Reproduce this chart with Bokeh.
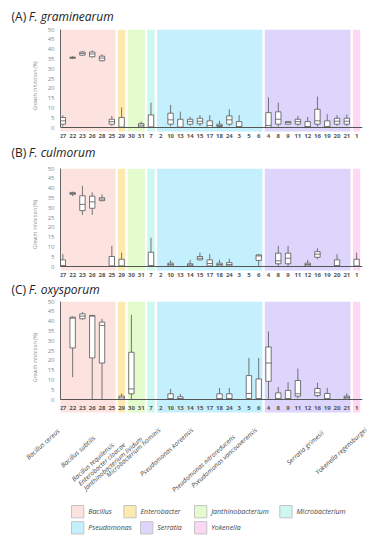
import numpy as np
from bokeh.plotting import figure
from bokeh.layouts import column
from bokeh.models import FixedTicker, Range1d, Span
from bokeh.core.properties import value
from bokeh.embed import file_html
from bokeh.resources import INLINE

# ---------------- data ----------------
strains = ["27", "22", "23", "26", "28", "25", "29", "30", "31", "7", "2", "10", "13", "14", "15",
           "17", "18", "24", "3", "5", "6", "4", "8", "9", "11", "12", "16", "19", "20", "21", "1"]
genus_of = (["Bacillus"] * 6 + ["Enterobacter"] + ["Janthinobacterium"] * 2 + ["Microbacterium"]
            + ["Pseudomonas"] * 11 + ["Serratia"] * 9 + ["Yokenella"])
genera = ["Bacillus", "Enterobacter", "Janthinobacterium", "Microbacterium",
          "Pseudomonas", "Serratia", "Yokenella"]
genus_colors = ["#fde3df", "#fdeab0", "#e4fbcd", "#cdf7ef", "#c4f0fd", "#ddd5fc", "#fcd8f4"]

# (A) F. graminearum
a_low = [0.5, 35.0, 36.4, 35.6, 33.6, 0.8, 0, 0, 0, 0, 0, 0.5, 0, 0.8, 0.8, 0, 0, 0.8, 0, 0, 0, 0, 0.5, 1.5, 0.8, 0, 0.5, 0, 0.8, 0.8, 0]
a_q1 = [1.7, 35.3, 36.9, 36.1, 34.1, 1.7, 0, 0, 0.3, 0, 0, 1.7, 0, 1.7, 1.9, 0, 0.5, 1.7, 0, 0, 0, 0, 1.7, 1.7, 1.7, 0, 1.7, 0, 1.7, 1.7, 0]
a_med = [3.4, 35.6, 37.8, 37.5, 35.4, 3.0, 0.2, 0, 1.2, 0.3, 0, 3.9, 0.2, 3.1, 3.2, 1.0, 1.0, 3.9, 0.5, 0, 0, 1.0, 4.2, 2.6, 3.0, 0.5, 3.4, 0.5, 3.2, 3.2, 0]
a_q3 = [5.1, 35.9, 38.5, 38.5, 36.4, 4.2, 5.1, 0, 2.0, 6.4, 0, 7.3, 4.2, 4.2, 4.7, 3.4, 1.7, 5.9, 3.0, 0, 0, 7.6, 8.0, 3.0, 4.2, 3.0, 9.3, 3.4, 4.7, 4.7, 0]
a_high = [6.3, 36.3, 39.0, 39.3, 37.3, 5.9, 10.2, 0, 3.1, 12.7, 0, 11.5, 8.1, 5.4, 6.3, 6.3, 3.4, 9.3, 6.3, 0, 0, 15.3, 12.7, 3.2, 5.9, 5.4, 15.8, 6.8, 6.3, 6.6, 0]

# (B) F. culmorum
b_low = [0, 35.9, 26.3, 26.3, 33.2, 0, 0, 0, 0, 0, 0, 0, 0, 0, 3.1, 0, 0, 0, 0, 0, 0, 0, 0.3, 0.3, 0, 0, 3.7, 0, 0, 0, 0]
b_q1 = [0, 36.8, 28.5, 29.7, 33.6, 0, 0, 0, 0, 0, 0, 0.3, 0, 0.3, 3.4, 0.3, 0.3, 0.3, 0, 0, 3.1, 0, 1.4, 1.4, 0, 0.3, 4.7, 0, 0, 0, 0]
b_med = [0.5, 37.2, 31.7, 33.0, 34.4, 0.3, 0.3, 0, 0, 0.5, 0, 1.0, 0, 0.8, 4.2, 1.5, 1.0, 1.0, 0, 0, 5.4, 0, 2.9, 4.2, 0, 1.0, 6.3, 0, 0.5, 0, 0.3]
b_q3 = [3.4, 37.8, 36.1, 35.9, 35.1, 5.1, 3.7, 0, 0, 7.3, 0, 1.7, 0, 1.4, 5.1, 3.4, 1.7, 2.0, 0, 0, 5.9, 0, 6.8, 6.8, 0, 1.7, 7.6, 0, 3.4, 0, 3.7]
b_high = [6.3, 38.1, 41.2, 37.8, 36.8, 10.5, 7.1, 0, 0, 14.7, 0, 3.1, 0, 3.4, 7.1, 6.3, 3.4, 3.9, 0, 0, 6.3, 0, 10.5, 10.5, 0, 3.4, 9.3, 0, 6.3, 0, 7.1]

# (C) F. oxysporum
c_low = [0, 11.4, 40.7, 0, 0, 0, 0, 0, 0, 0, 0, 0, 0, 0, 0, 0, 0, 0, 0, 0, 0, 0, 0, 0, 0.5, 0, 1.2, 0, 0, 0, 0]
c_q1 = [0, 26.3, 41.2, 21.2, 18.6, 0, 0, 2.9, 0, 0, 0, 0, 0, 0, 0, 0, 0, 0, 0, 0.5, 0, 9.3, 0, 0, 1.7, 0, 2.0, 0, 0, 0.3, 0]
c_med = [0, 41.5, 42.5, 42.5, 37.8, 0, 0.8, 5.4, 0, 0, 0, 0.5, 0.5, 0, 0, 0, 0.5, 0.5, 0, 3.1, 0.5, 18.6, 0.5, 0.5, 2.9, 0, 3.4, 0.5, 0, 1.0, 0]
c_q3 = [0, 42.0, 43.7, 42.9, 39.5, 0, 1.7, 24.1, 0, 0, 0, 2.9, 1.4, 0, 0, 0, 2.9, 2.9, 0, 12.2, 10.5, 26.8, 3.4, 4.6, 9.7, 0, 5.6, 3.1, 0, 1.7, 0]
c_high = [0, 42.4, 44.6, 43.0, 41.2, 0, 3.1, 43.2, 0, 0, 0, 5.4, 2.9, 0, 0, 0, 5.9, 5.9, 0, 21.2, 21.2, 34.7, 6.4, 8.8, 15.8, 0, 8.5, 5.9, 0, 3.1, 0]

y_ticks = [0, 5, 10, 15, 20, 25, 30, 35, 40, 45, 50]

species = ["Bacillus cereus", "Bacillus subtilis", "Bacillus tequilensis", "Enterobacter cloacae",
           "Janthinobacterium lividum", "Microbacterium hominis", "Pseudomonas koreensis",
           "Pseudomonas nitroreducens", "Pseudomonas vancouverensis", "Serratia grimesii",
           "Yokenella regensburgei"]
species_strain = ["27", "26", "25", "29", "31", "7", "14", "24", "5", "16", "1"]

# ---------------- layout / style ----------------
W = 379
FRAME_L, FRAME_R = 60, 17          # borders left / right of the plot frame
FRAME_W = W - FRAME_L - FRAME_R
X0, X1 = -0.24, 30.6
Y1 = 50
PXX = FRAME_W / (X1 - X0)
PXY = 98 / 50                      # px per % (0 -> 50 spans 98 px)
FONT = "Open Sans"
BOX_W = 0.55
BAND_GAP = 0.12
LINE_C = "#555555"
TXT_C = "#222222"

# species label end offsets (category units) and their depth below the strip figure top (px)
species_dx = [-0.75, -0.1, -0.2, -0.05, -0.3, 0.55, -0.1, 0.15, 0.4, 0.2, 0.6]
species_dy = [13, 20, 27, 27, 21, 12, 12, 19, 12, 15, 12]


def band_edges():
    lefts, rights = [], []
    for g in genera:
        members = [i for i, gg in enumerate(genus_of) if gg == g]
        lefts.append(min(members) - 0.5 + BAND_GAP)
        rights.append(max(members) + 0.5 - BAND_GAP)
    return lefts, rights


def blank_fig(h, xr, yr):
    f = figure(width=W, height=h, x_range=xr, y_range=yr, output_backend="svg",
               toolbar_location=None, min_border_left=0, min_border_right=0,
               min_border_top=0, min_border_bottom=0, frame_align=False)
    f.axis.visible = False
    f.xgrid.visible = False
    f.ygrid.visible = False
    f.outline_line_color = None
    f.background_fill_color = "white"
    f.border_fill_color = "white"
    return f


def title_fig(h, tag, name, cy):
    f = blank_fig(h, Range1d(0, W), Range1d(h, 0))
    f.text(x=[11], y=[cy], text=[tag], text_font=value(FONT), text_font_size="12px",
           text_baseline="middle", text_align="left", text_color=TXT_C)
    f.text(x=[28.3], y=[cy], text=[name], text_font=value(FONT), text_font_size="12px",
           text_font_style="italic", text_baseline="middle", text_align="left", text_color=TXT_C)
    return f


def make_panel(low, q1, med, q3, high, top_b, frame_h, band_px, label_px):
    ybot = Y1 - frame_h / PXY
    p = figure(width=W, height=top_b + frame_h,
               x_range=Range1d(X0, X1), y_range=Range1d(ybot, Y1),
               output_backend="svg", toolbar_location=None,
               min_border_left=FRAME_L, min_border_right=FRAME_R,
               min_border_top=top_b, min_border_bottom=0, frame_align=False)
    p.outline_line_color = None
    p.xgrid.visible = False
    p.ygrid.visible = False
    p.xaxis.visible = False
    p.background_fill_color = "white"
    p.border_fill_color = "white"

    idx = np.arange(len(strains))
    lefts, rights = band_edges()
    p.quad(left=lefts, right=rights, bottom=-band_px / PXY, top=Y1,
           fill_color=genus_colors, line_color=None)
    p.add_layout(Span(location=0, dimension="width", line_color="#555555", line_width=1))

    lo = np.array(low, float); a1 = np.array(q1, float); md = np.array(med, float)
    a3 = np.array(q3, float); hi = np.array(high, float)
    p.segment(x0=idx, y0=lo, x1=idx, y1=a1, line_color=LINE_C, line_width=0.8)
    p.segment(x0=idx, y0=a3, x1=idx, y1=hi, line_color=LINE_C, line_width=0.8)
    p.vbar(x=idx, width=BOX_W, bottom=a1, top=a3, fill_color="white",
           line_color=LINE_C, line_width=0.8)
    p.segment(x0=idx - BOX_W / 2, y0=md, x1=idx + BOX_W / 2, y1=md,
              line_color=LINE_C, line_width=0.8)

    # strain labels (category axis)
    p.text(x=idx, y=[-label_px / PXY] * len(strains), text=strains,
           text_font=value(FONT), text_font_size="6px", text_font_style="bold",
           text_baseline="middle", text_align="center", text_color="#555555")

    ya = p.yaxis[0]
    ya.ticker = FixedTicker(ticks=y_ticks)
    ya.bounds = (0, 50)
    ya.major_label_text_font = FONT
    ya.major_label_text_font_size = "6px"
    ya.major_label_text_color = "#8a8a8a"
    ya.major_tick_line_color = None
    ya.minor_tick_line_color = None
    ya.major_tick_out = 0
    ya.major_tick_in = 0
    ya.minor_tick_out = 0
    ya.minor_tick_in = 0
    ya.major_label_standoff = 6
    ya.axis_line_color = "#666666"
    ya.axis_line_width = 1
    ya.axis_label = "Growth inhibition (%)"
    ya.axis_label_text_font = FONT
    ya.axis_label_text_font_size = "5px"
    ya.axis_label_text_font_style = "normal"
    ya.axis_label_text_color = "#8a8a8a"
    ya.axis_label_standoff = 7
    return p


tA = title_fig(25, "(A)", "F. graminearum", 16.3)
pA = make_panel(a_low, a_q1, a_med, a_q3, a_high, 4, 113, 4, 8.7)
tB = title_fig(22, "(B)", "F. culmorum", 10.3)
pB = make_panel(b_low, b_q1, b_med, b_q3, b_high, 4, 112, 4, 8.0)
tC = title_fig(18, "(C)", "F. oxysporum", 9.3)
pC = make_panel(c_low, c_q1, c_med, c_q3, c_high, 3, 112, 13, 8.7)

# species names below panel C (same x scale as the panels)
SH = 88
pS = blank_fig(SH, Range1d(X0 - FRAME_L / PXX, X1 + FRAME_R / PXX), Range1d(SH, 0))
sx = [strains.index(s) + d for s, d in zip(species_strain, species_dx)]
pS.text(x=sx, y=species_dy, text=species, angle=42, angle_units="deg",
        text_align="right", text_baseline="top", text_font=value(FONT),
        text_font_size="6.5px", text_font_style="italic", text_color="#444444")

# legend
LH = 48
pL = blank_fig(LH, Range1d(0, W), Range1d(LH, 0))
leg_left = [71, 123.3, 194, 279.3, 71, 140, 194]
leg_row = [10.2, 10.2, 10.2, 10.2, 26.3, 26.3, 26.3]
SW = 12.3
pL.rect(x=[l + SW / 2 for l in leg_left], y=leg_row, width=SW, height=SW,
        fill_color=genus_colors, line_color="#c4c4c4", line_width=1)
pL.text(x=[l + 16.7 for l in leg_left], y=leg_row, text=genera, text_font=value(FONT),
        text_font_size="7px", text_font_style="italic", text_baseline="middle",
        text_align="left", text_color="#444444")

layout = column(tA, pA, tB, pB, tC, pC, pS, pL, spacing=0)
open("out.html", "w").write(file_html(layout, INLINE))
